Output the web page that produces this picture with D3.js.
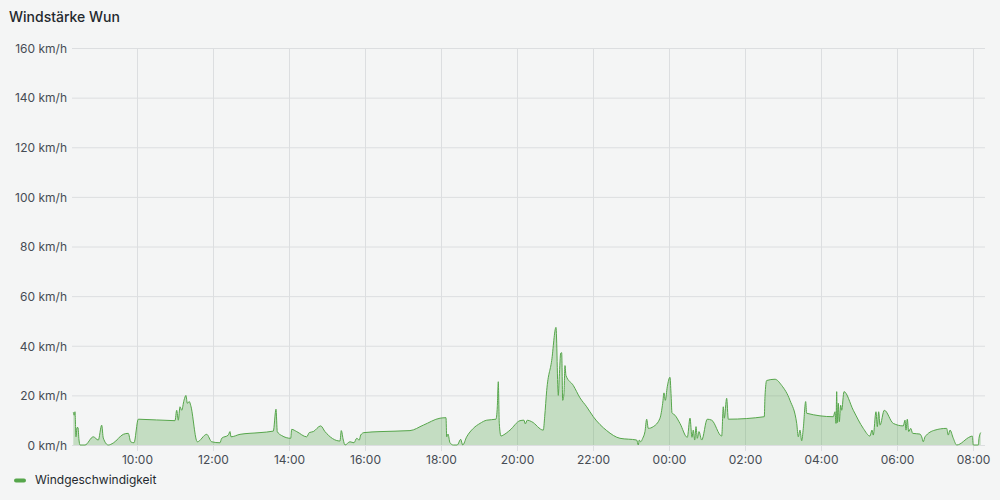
<!DOCTYPE html>
<html>
<head>
<meta charset="utf-8">
<script src="https://cdn.jsdelivr.net/npm/d3@7"></script>
<style>
  html, body { margin: 0; padding: 0; background: #f4f5f5; }
  svg { display: block; font-family: Inter, "Noto Sans", sans-serif; }
</style>
</head>
<body>
<svg id="chart" width="1000" height="500"></svg>
<script>
// hours since midnight of the first day (values > 24 = next day)
const times = [8.324,8.347,8.368,8.395,8.421,8.447,8.474,8.5,8.632,8.85,8.982,9.071,9.113,9.245,9.376,9.639,9.771,9.834,9.921,
10.034,11.0,11.045,11.087,11.132,11.176,11.237,11.289,11.324,11.376,11.413,11.587,11.834,11.966,12.184,12.229,12.403,12.447,12.474,12.711,
13.237,13.587,13.658,13.692,13.808,14.045,14.071,14.203,14.466,14.534,14.639,14.834,14.947,15.342,15.376,15.429,15.474,15.605,15.711,15.782,
15.850,15.887,15.974,16.395,17.184,17.534,17.974,18.132,18.150,18.184,18.237,18.324,18.429,18.518,18.571,18.676,18.850,19.026,19.203,19.447,
19.482,19.508,19.534,19.579,19.639,19.816,20.079,20.184,20.218,20.271,20.387,20.692,20.729,20.782,20.913,21.026,21.087,21.113,21.150,21.176,
21.203,21.237,21.263,21.289,21.482,21.658,21.834,22.008,22.361,22.711,23.150,23.192,23.218,23.255,23.308,23.368,23.413,23.455,23.587,23.763,
23.834,23.868,23.903,23.955,24.026,24.053,24.079,24.158,24.289,24.482,24.553,24.605,24.639,24.676,24.711,24.745,24.789,24.861,25.008,25.124,
25.387,25.429,25.455,25.518,25.561,26.508,26.526,26.571,26.789,26.966,27.184,27.361,27.403,27.447,27.492,27.534,27.597,27.623,28.324,28.368,
28.395,28.413,28.429,28.455,28.482,28.518,28.545,28.605,28.850,29.113,29.289,29.342,29.376,29.447,29.482,29.518,29.553,29.666,29.903,30.166,
30.211,30.237,30.271,30.308,30.361,30.413,30.605,30.650,30.692,30.737,30.999,31.307,31.350,31.395,31.482,31.571,31.921,31.982,32.008,32.140,
32.158,32.203];
// wind speed in km/h
const speeds = [13.2,12,13.4,3.3,7,7,2,0,0,3.3,2,8,2.8,0,0.8,4.3,4.7,1.3,0.9,
10.4,9.8,14,10,15.4,14,18,20,16.8,17.5,16,1.3,4.3,1.3,0.9,2.7,4,5.4,3.3,4.3,
5,5.6,14.4,5.4,3.8,2.7,6.3,5.4,3.3,5,5.4,7.7,5.4,1.6,5.8,2,0,1.3,0.9,2.7,
2,4,5,5.4,5.8,8,10.8,11,3.3,4.4,0.9,0,0,2.3,0,3.3,6.7,8.7,10,10.4,
15.4,25.5,8.7,3.6,4,6,9.8,10,8.5,10,9.4,6,11.4,22,34,47.4,20,27.5,37,37.2,
18,20.8,32,28,24,19,15.4,11.4,5.8,2.7,2,0,2,1.3,2.7,5.4,10.4,6.7,7.4,10.8,
16.8,21,18,23.5,27.3,20.8,13,12,8.7,3.1,10.8,3.1,6,2,7.4,2.7,5.4,2,10.4,10,
3.6,15.4,10.8,18.8,10.4,11.4,19.5,26,26.5,24,18,8.7,3.3,6,1.7,6.7,17.5,12.8,11.4,13.4,
8.7,21.5,9,16.8,9.4,16,14,21.5,14,6.7,3.6,6,4,13.4,7.4,13.4,8,14,8.7,7.7,
10,6,10.4,5.4,6.7,4.7,4.4,3.3,1.3,3.3,6,6.7,4,6,2.7,0,3.3,3.6,0,0,
2.7,5];
const yTicks = [0,20,40,60,80,100,120,140,160];
const title = "Windstärke Wun";
const seriesName = "Windgeschwindigkeit";
const rangeStartHour = 8.316, rangeEndHour = 32.316;

const base = new Date(2024, 0, 1, 0, 0, 0);
const toDate = h => new Date(base.getTime() + h * 3600000);
const data = times.map((t, i) => ({ t: toDate(t), v: speeds[i] }));

const svg = d3.select("#chart");
const mLeft = 73, mRight = 985, mTop = 48, mBottom = 445;
const lineColor = "#56a64b";

const x = d3.scaleTime().domain([toDate(rangeStartHour), toDate(rangeEndHour)]).range([mLeft, mRight]);
const y = d3.scaleLinear().domain([0, 160]).range([mBottom, mTop]);

// title
svg.append("text").attr("x", 9).attr("y", 22).attr("font-size", 14).attr("font-weight", 500)
  .attr("fill", "#24292e").text(title);

// grid
const xTicks = x.ticks(d3.timeHour.every(2));
svg.append("g").selectAll("line").data(yTicks).join("line")
  .attr("x1", mLeft - 1).attr("x2", mRight).attr("y1", d => y(d) + 0.5).attr("y2", d => y(d) + 0.5)
  .attr("stroke", "#dcdee0").attr("stroke-width", 1);
svg.append("g").selectAll("line").data(xTicks).join("line")
  .attr("x1", d => Math.round(x(d)) + 0.5).attr("x2", d => Math.round(x(d)) + 0.5)
  .attr("y1", mTop).attr("y2", mBottom + 6)
  .attr("stroke", "#dcdee0").attr("stroke-width", 1);

// axes labels
const yAxis = d3.axisLeft(y).tickValues(yTicks).tickSize(0).tickPadding(6).tickFormat(d => d + " km/h");
const gy = svg.append("g").attr("transform", `translate(${mLeft},0.5)`).call(yAxis);
gy.select(".domain").remove();
gy.selectAll("text").attr("font-size", 12).attr("fill", "#464c54").attr("font-family", "Inter, sans-serif");

const xAxis = d3.axisBottom(x).ticks(d3.timeHour.every(2)).tickSize(0).tickPadding(10).tickFormat(d3.timeFormat("%H:%M"));
const gx = svg.append("g").attr("transform", `translate(0,${mBottom})`).call(xAxis);
gx.select(".domain").remove();
gx.selectAll("text").attr("font-size", 12).attr("fill", "#464c54").attr("font-family", "Inter, sans-serif");

// area + line
const area = d3.area().x(d => x(d.t)).y0(y(0)).y1(d => y(d.v)).curve(d3.curveMonotoneX);
const line = d3.line().x(d => x(d.t)).y(d => y(d.v)).curve(d3.curveMonotoneX);
svg.append("path").datum(data).attr("d", area).attr("fill", lineColor).attr("fill-opacity", 0.3);
svg.append("path").datum(data).attr("d", line).attr("fill", "none").attr("stroke", lineColor).attr("stroke-width", 1);

// legend
svg.append("line").attr("x1", 16).attr("x2", 24).attr("y1", 480.5).attr("y2", 480.5)
  .attr("stroke", lineColor).attr("stroke-width", 4).attr("stroke-linecap", "round");
svg.append("text").attr("x", 35).attr("y", 480).attr("dy", "0.35em").attr("font-size", 12)
  .attr("fill", "#24292e").text(seriesName);
</script>
</body>
</html>
